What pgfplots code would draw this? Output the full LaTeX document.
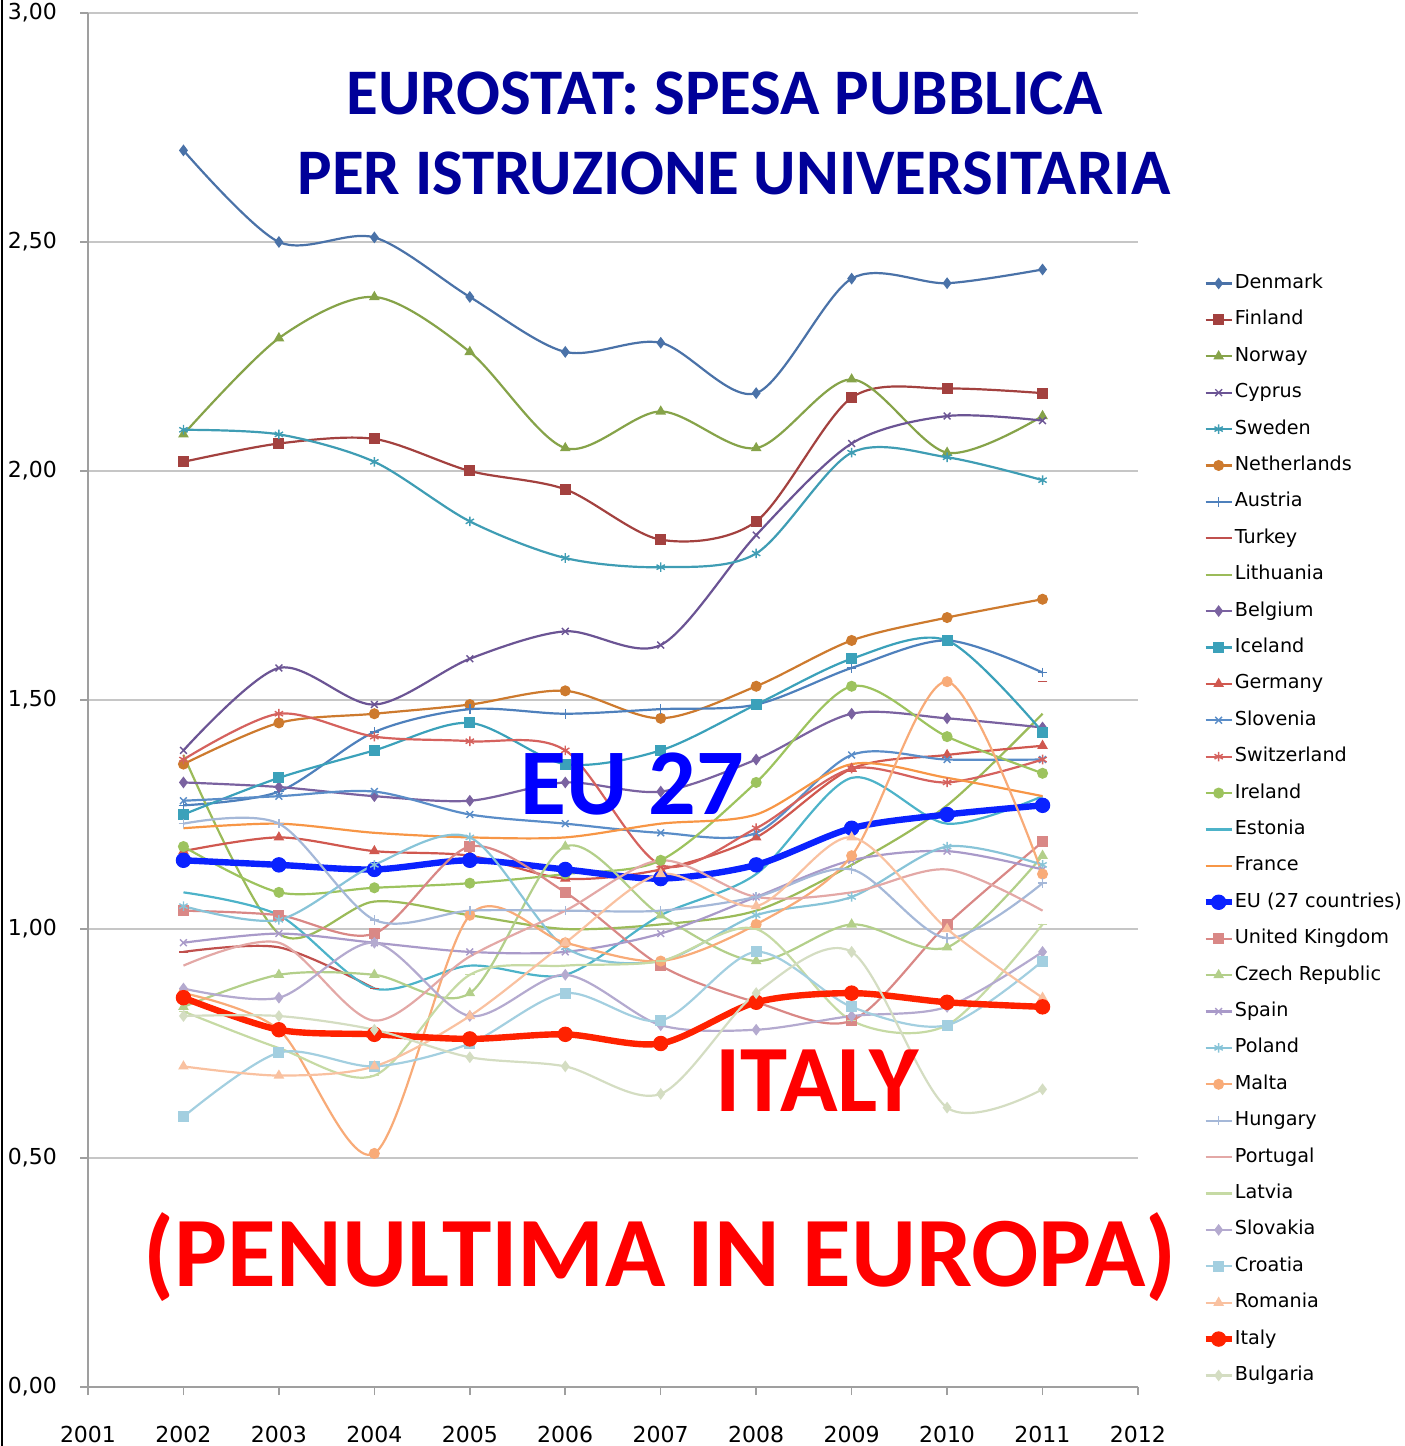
\documentclass[border=0pt]{standalone}
\usepackage{pgfplots}
\usepackage{pgfplotstable}
\pgfplotsset{compat=1.18}
\usepackage{fontspec}
\setmainfont{DejaVu Sans}
\newfontfamily\calib{Carlito}

\definecolor{cDen}{HTML}{4A72A8}
\definecolor{cFin}{HTML}{A3413F}
\definecolor{cNor}{HTML}{86A349}
\definecolor{cCyp}{HTML}{6B5494}
\definecolor{cSwe}{HTML}{3F9DB4}
\definecolor{cNet}{HTML}{CD7A2E}
\definecolor{cAus}{HTML}{4E80BC}
\definecolor{cTur}{HTML}{C0504D}
\definecolor{cLit}{HTML}{9BBB59}
\definecolor{cBel}{HTML}{7A62A0}
\definecolor{cIce}{HTML}{3BA1BA}
\definecolor{cGer}{HTML}{D0584F}
\definecolor{cSlo}{HTML}{5A8DC8}
\definecolor{cSwi}{HTML}{D5625E}
\definecolor{cIre}{HTML}{9DC35E}
\definecolor{cEst}{HTML}{4DB3C9}
\definecolor{cFra}{HTML}{F79646}
\definecolor{cEU}{HTML}{0A22FF}
\definecolor{cUK}{HTML}{D98886}
\definecolor{cCze}{HTML}{B3CF8A}
\definecolor{cSpa}{HTML}{A99AC9}
\definecolor{cPol}{HTML}{88C4D8}
\definecolor{cMal}{HTML}{F8AB78}
\definecolor{cHun}{HTML}{A5B8D8}
\definecolor{cPor}{HTML}{E3A8A6}
\definecolor{cLat}{HTML}{C6DAA4}
\definecolor{cSlk}{HTML}{B4AACF}
\definecolor{cCro}{HTML}{A3CFE0}
\definecolor{cRom}{HTML}{F9C1A0}
\definecolor{cIta}{HTML}{FF2200}
\definecolor{cBul}{HTML}{D4DDC2}
\definecolor{navy}{HTML}{000099}

\pgfplotstableread{
year Den Fin Nor Cyp Swe Net Aus Lit Bel Ice Ger Slo Swi Ire Est Fra EU UK Cze Spa Pol Mal Hun Por Lat Slk Cro Rom Ita Bul
2002 2.70 2.02 2.08 1.39 2.09 1.36 1.27 1.38 1.32 1.25 1.17 1.28 1.37 1.18 1.08 1.22 1.15 1.04 0.83 0.97 1.05 0.86 1.23 0.92 0.82 0.87 0.59 0.70 0.85 0.81
2003 2.50 2.06 2.29 1.57 2.08 1.45 1.30 0.99 1.31 1.33 1.20 1.29 1.47 1.08 1.03 1.23 1.14 1.03 0.90 0.99 1.02 0.78 1.23 0.97 0.74 0.85 0.73 0.68 0.78 0.81
2004 2.51 2.07 2.38 1.49 2.02 1.47 1.43 1.06 1.29 1.39 1.17 1.30 1.42 1.09 0.87 1.21 1.13 0.99 0.90 0.97 1.14 0.51 1.02 0.80 0.68 0.97 0.70 0.70 0.77 0.78
2005 2.38 2.00 2.26 1.59 1.89 1.49 1.48 1.03 1.28 1.45 1.16 1.25 1.41 1.10 0.92 1.20 1.15 1.18 0.86 0.95 1.20 1.03 1.04 0.94 0.90 0.81 0.75 0.81 0.76 0.72
2006 2.26 1.96 2.05 1.65 1.81 1.52 1.47 1.00 1.32 1.36 1.11 1.23 1.39 1.12 0.90 1.20 1.13 1.08 1.18 0.95 0.96 0.97 1.04 1.04 0.92 0.90 0.86 0.97 0.77 0.70
2007 2.28 1.85 2.13 1.62 1.79 1.46 1.48 1.01 1.30 1.39 1.13 1.21 1.14 1.15 1.03 1.23 1.11 0.92 1.03 0.99 0.93 0.93 1.04 1.15 0.93 0.79 0.80 1.12 0.75 0.64
2008 2.17 1.89 2.05 1.86 1.82 1.53 1.49 1.04 1.37 1.49 1.20 1.21 1.22 1.32 1.12 1.25 1.14 0.84 0.93 1.07 1.03 1.01 1.07 1.07 1.00 0.78 0.95 1.05 0.84 0.86
2009 2.42 2.16 2.20 2.06 2.04 1.63 1.57 1.14 1.47 1.59 1.35 1.38 1.35 1.53 1.33 1.36 1.22 0.80 1.01 1.15 1.07 1.16 1.13 1.08 0.80 0.81 0.83 1.20 0.86 0.95
2010 2.41 2.18 2.04 2.12 2.03 1.68 1.63 1.27 1.46 1.63 1.38 1.37 1.32 1.42 1.23 1.33 1.25 1.01 0.96 1.17 1.18 1.54 0.98 1.13 0.79 0.83 0.79 1.00 0.84 0.61
2011 2.44 2.17 2.12 2.11 1.98 1.72 1.56 1.47 1.44 1.43 1.40 1.37 1.37 1.34 1.29 1.29 1.27 1.19 1.16 1.13 1.14 1.12 1.10 1.04 1.01 0.95 0.93 0.85 0.83 0.65
}\data

\pgfplotsset{
  ser/.style n args={2}{color=#1, mark=#2, smooth, line width=1.1pt, mark size=2.4pt,
     mark options={solid, fill=#1, line width=0.7pt}},
  big/.style={color=#1, mark=*, smooth, line width=3.2pt, mark size=3.6pt,
     mark options={solid, fill=#1, line width=0.5pt}},
}

\begin{document}
\begin{tikzpicture}
\path[use as bounding box] (0,0) rectangle (702pt,723pt);
\draw[black, line width=1pt] (1pt,0) -- (1pt,723pt);
\begin{axis}[
  at={(44pt,29.5pt)}, anchor=south west,
  scale only axis, width=525pt, height=687pt,
  xmin=2001, xmax=2012, ymin=0, ymax=3,
  enlargelimits=false,
  axis lines=left,
  axis line style={-, draw=gray!75, line width=0.8pt},
  tick align=outside, major tick length=4pt,
  tick style={draw=gray!75, line width=0.8pt},
  xtick={2001,2002,...,2012},
  ytick={0,0.5,...,3},
  ymajorgrids, grid style={draw=gray!45, line width=0.8pt},
  /pgf/number format/assume math mode=true,
  x tick label style={/pgf/number format/1000 sep={}, font=\fontsize{11}{13}\selectfont, yshift=-12pt},
  y tick label style={/pgf/number format/.cd, fixed, fixed zerofill, precision=2, use comma, 1000 sep={},
     /tikz/.cd, font=\fontsize{11}{13}\selectfont, xshift=-8pt},
  legend style={at={(1.061,0.810)}, anchor=north west, draw=none, fill=none,
     font=\fontsize{9.6}{11}\selectfont, inner sep=0pt, row sep=9.2pt,
     nodes={inner sep=0pt, text height=7pt, text depth=2pt, anchor=west}},
  legend cell align=left,
  legend image code/.code={\draw[mark repeat=2,mark phase=2] plot coordinates {(0pt,0pt) (6.5pt,0pt) (13pt,0pt)};},
  clip=false,
]
\addplot[ser={cDen}{diamond*}] table[x=year,y=Den]{\data}; \addlegendentry{Denmark}
\addplot[ser={cFin}{square*}] table[x=year,y=Fin]{\data}; \addlegendentry{Finland}
\addplot[ser={cNor}{triangle*}] table[x=year,y=Nor]{\data}; \addlegendentry{Norway}
\addplot[ser={cCyp}{x}] table[x=year,y=Cyp]{\data}; \addlegendentry{Cyprus}
\addplot[ser={cSwe}{asterisk}] table[x=year,y=Swe]{\data}; \addlegendentry{Sweden}
\addplot[ser={cNet}{*}] table[x=year,y=Net]{\data}; \addlegendentry{Netherlands}
\addplot[ser={cAus}{+}] table[x=year,y=Aus]{\data}; \addlegendentry{Austria}
\addplot[ser={cTur}{-}] coordinates {(2002,0.95) (2003,0.96) (2004,0.87)}; \addlegendentry{Turkey}
\addplot[ser={cTur}{-}, forget plot] coordinates {(2011,1.54)};
\addplot[ser={cLit}{none}] table[x=year,y=Lit]{\data}; \addlegendentry{Lithuania}
\addplot[ser={cBel}{diamond*}] table[x=year,y=Bel]{\data}; \addlegendentry{Belgium}
\addplot[ser={cIce}{square*}] table[x=year,y=Ice]{\data}; \addlegendentry{Iceland}
\addplot[ser={cGer}{triangle*}] table[x=year,y=Ger]{\data}; \addlegendentry{Germany}
\addplot[ser={cSlo}{x}] table[x=year,y=Slo]{\data}; \addlegendentry{Slovenia}
\addplot[ser={cSwi}{asterisk}] table[x=year,y=Swi]{\data}; \addlegendentry{Switzerland}
\addplot[ser={cIre}{*}] table[x=year,y=Ire]{\data}; \addlegendentry{Ireland}
\addplot[ser={cEst}{none}] table[x=year,y=Est]{\data}; \addlegendentry{Estonia}
\addplot[ser={cFra}{none}] table[x=year,y=Fra]{\data}; \addlegendentry{France}
\addplot[big=cEU] table[x=year,y=EU]{\data}; \addlegendentry{EU (27 countries)}
\addplot[ser={cUK}{square*}] table[x=year,y=UK]{\data}; \addlegendentry{United Kingdom}
\addplot[ser={cCze}{triangle*}] table[x=year,y=Cze]{\data}; \addlegendentry{Czech Republic}
\addplot[ser={cSpa}{x}] table[x=year,y=Spa]{\data}; \addlegendentry{Spain}
\addplot[ser={cPol}{asterisk}] table[x=year,y=Pol]{\data}; \addlegendentry{Poland}
\addplot[ser={cMal}{*}] table[x=year,y=Mal]{\data}; \addlegendentry{Malta}
\addplot[ser={cHun}{+}] table[x=year,y=Hun]{\data}; \addlegendentry{Hungary}
\addplot[ser={cPor}{none}] table[x=year,y=Por]{\data}; \addlegendentry{Portugal}
\addplot[ser={cLat}{-}] table[x=year,y=Lat]{\data}; \addlegendentry{Latvia}
\addplot[ser={cSlk}{diamond*}] table[x=year,y=Slk]{\data}; \addlegendentry{Slovakia}
\addplot[ser={cCro}{square*}] table[x=year,y=Cro]{\data}; \addlegendentry{Croatia}
\addplot[ser={cRom}{triangle*}] table[x=year,y=Rom]{\data}; \addlegendentry{Romania}
\addplot[big=cIta] table[x=year,y=Ita]{\data}; \addlegendentry{Italy}
\addplot[ser={cBul}{diamond*}] table[x=year,y=Bul]{\data}; \addlegendentry{Bulgaria}
\end{axis}
\node[anchor=base, text=navy, font=\calib\bfseries\fontsize{32.5}{36}\selectfont, inner sep=0pt] at (362.5pt,665.5pt) {EUROSTAT: SPESA PUBBLICA};
\node[anchor=base, text=navy, font=\calib\bfseries\fontsize{32.5}{36}\selectfont, inner sep=0pt] at (367pt,625.5pt) {PER ISTRUZIONE UNIVERSITARIA};
\node[anchor=base, text=blue, font=\calib\bfseries\fontsize{47}{50}\selectfont, inner sep=0pt] at (316pt,315.5pt) {EU 27};
\node[anchor=base, text=red, font=\calib\bfseries\fontsize{47.5}{50}\selectfont, inner sep=0pt] at (408.5pt,167pt) {ITALY};
\node[anchor=base, text=red, font=\calib\bfseries\fontsize{49.8}{52}\selectfont, inner sep=0pt] at (330pt,79.5pt) {(PENULTIMA IN EUROPA)};
\end{tikzpicture}
\end{document}
